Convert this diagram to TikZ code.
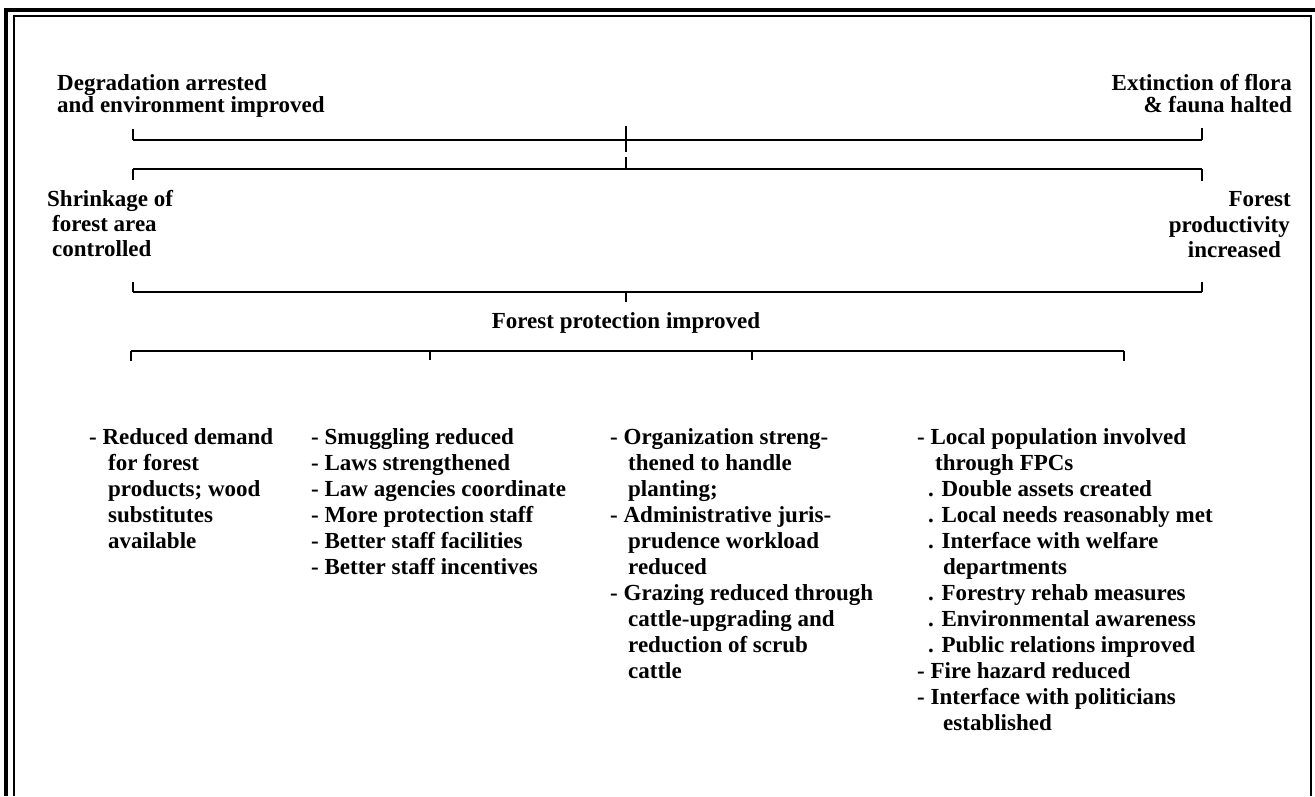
\documentclass[tikz,border=0pt]{standalone}
\usepackage{fontspec}
\setmainfont{Liberation Serif}
\begin{document}
\begin{tikzpicture}[x=1pt,y=-1pt,
  txt/.style={inner sep=0pt,font=\fontsize{23}{26}\selectfont\bfseries,anchor=base west},
  txtr/.style={txt,anchor=base east},
  txtc/.style={txt,anchor=base},
  brk/.style={line width=2pt},
  tick/.style={line width=2.4pt},
  frameo/.style={line width=3.5pt},
  framei/.style={line width=2.5pt}]
\useasboundingbox (0,0) rectangle (1315,796);
% frame
\draw[frameo] (6,796) -- (6,10) -- (1315,10);
\draw[framei] (14,796) -- (14,16) -- (1311,16) -- (1311,796);
% top texts
\node[txt] (d1) at (57,90) {Degradation arrested};
\node[txt] (d2) at (57,112) {and environment improved};
\node[txtr] (e1) at (1292,90) {Extinction of flora};
\node[txtr] (e2) at (1292,112) {\& fauna halted};
\node[txt] (s1) at (47,206) {Shrinkage of};
\node[txt] (s2) at (52,231) {forest area};
\node[txt] (s3) at (52,256) {controlled};
\node[txtr] (f1) at (1291,206) {Forest};
\node[txtr] (f2) at (1290,232) {productivity};
\node[txtr] (f3) at (1281,257) {increased};
\node[txtc] (fp) at (626,328) {Forest protection improved};
% bracket coordinates
\coordinate (b1l) at (133,140); \coordinate (b1r) at (1202,140);
\coordinate (b1m) at (626,140);
\coordinate (b2l) at (133,169); \coordinate (b2r) at (1202,169);
\coordinate (b2m) at (626,169);
\coordinate (b3l) at (133,292); \coordinate (b3r) at (1202,292);
\coordinate (b3m) at (626,292);
\coordinate (b4a) at (131,351); \coordinate (b4b) at (430,351);
\coordinate (b4c) at (752,351); \coordinate (b4d) at (1124,351);
% bracket 1 (upper goals)
\draw[brk] (b1l) -- (b1r);
\draw[tick] (b1l) -- ++(0,-11);
\draw[tick] (b1r) -- ++(0,-12);
\draw[tick] (626,126) -- (626,152);
% bracket 2
\draw[brk] (b2l) -- (b2r);
\draw[tick] (b2l) -- ++(0,11);
\draw[tick] (b2r) -- ++(0,12);
\draw[tick] (626,157) -- (b2m);
% bracket 3
\draw[brk] (b3l) -- (b3r);
\draw[tick] (b3l) -- ++(0,-10);
\draw[tick] (b3r) -- ++(0,-10);
\draw[tick] (b3m) -- ++(0,10);
% bracket 4
\draw[brk] (b4a) -- (b4d);
\draw[tick] (b4a) -- ++(0,10);
\draw[tick] (b4b) -- ++(0,9);
\draw[tick] (b4c) -- ++(0,9);
\draw[tick] (b4d) -- ++(0,10);
% column 1
\node[txt] (c1a) at (89,444) {- Reduced demand};
\node[txt] (c1b) at (108,470) {for forest};
\node[txt] (c1c) at (108,496) {products; wood};
\node[txt] (c1d) at (108,522) {substitutes};
\node[txt] (c1e) at (108,548) {available};
% column 2
\node[txt] (c2a) at (311,444) {- Smuggling reduced};
\node[txt] (c2b) at (311,470) {- Laws strengthened};
\node[txt] (c2c) at (311,496) {- Law agencies coordinate};
\node[txt] (c2d) at (311,522) {- More protection staff};
\node[txt] (c2e) at (311,548) {- Better staff facilities};
\node[txt] (c2f) at (311,574) {- Better staff incentives};
% column 3
\node[txt] (c3a) at (610,444) {- Organization streng-};
\node[txt] (c3b) at (628,470) {thened to handle};
\node[txt] (c3c) at (628,496) {planting;};
\node[txt] (c3d) at (610,522) {- Administrative juris-};
\node[txt] (c3e) at (628,548) {prudence workload};
\node[txt] (c3f) at (628,574) {reduced};
\node[txt] (c3g) at (610,600) {- Grazing reduced through};
\node[txt] (c3h) at (628,626) {cattle-upgrading and};
\node[txt] (c3i) at (628,652) {reduction of scrub};
\node[txt] (c3j) at (628,678) {cattle};
% column 4
\node[txt] (c4a) at (917,444) {- Local population involved};
\node[txt] (c4b) at (935,470) {through FPCs};
\node[txt] (c4c) at (928,496) {. Double assets created};
\node[txt] (c4d) at (928,522) {. Local needs reasonably met};
\node[txt] (c4e) at (928,548) {. Interface with welfare};
\node[txt] (c4f) at (943,574) {departments};
\node[txt] (c4g) at (928,600) {. Forestry rehab measures};
\node[txt] (c4h) at (928,626) {. Environmental awareness};
\node[txt] (c4i) at (928,652) {. Public relations improved};
\node[txt] (c4j) at (917,678) {- Fire hazard reduced};
\node[txt] (c4k) at (917,704) {- Interface with politicians};
\node[txt] (c4l) at (943,730) {established};
\end{tikzpicture}
\end{document}
